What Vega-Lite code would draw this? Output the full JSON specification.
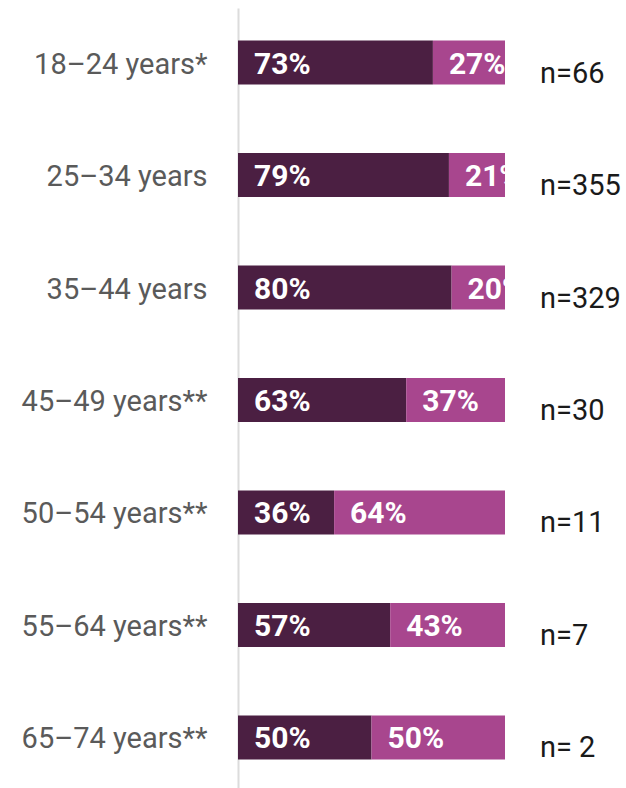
{
  "$schema": "https://vega.github.io/schema/vega-lite/v6.json",
  "width": 267,
  "height": 784,
  "autosize": {"type": "none"},
  "padding": {"left": 238, "top": 8, "right": 121, "bottom": 0},
  "background": "white",
  "config": {"view": {"stroke": null}},
  "data": {
    "values": [
      {"group": "18–24 years*", "segment": "A", "order": 1, "value": 0.73, "n": "n=66"},
      {"group": "18–24 years*", "segment": "B", "order": 2, "value": 0.27, "n": "n=66"},
      {"group": "25–34 years", "segment": "A", "order": 1, "value": 0.79, "n": "n=355"},
      {"group": "25–34 years", "segment": "B", "order": 2, "value": 0.21, "n": "n=355"},
      {"group": "35–44 years", "segment": "A", "order": 1, "value": 0.80, "n": "n=329"},
      {"group": "35–44 years", "segment": "B", "order": 2, "value": 0.20, "n": "n=329"},
      {"group": "45–49 years**", "segment": "A", "order": 1, "value": 0.63, "n": "n=30"},
      {"group": "45–49 years**", "segment": "B", "order": 2, "value": 0.37, "n": "n=30"},
      {"group": "50–54 years**", "segment": "A", "order": 1, "value": 0.36, "n": "n=11"},
      {"group": "50–54 years**", "segment": "B", "order": 2, "value": 0.64, "n": "n=11"},
      {"group": "55–64 years**", "segment": "A", "order": 1, "value": 0.57, "n": "n=7"},
      {"group": "55–64 years**", "segment": "B", "order": 2, "value": 0.43, "n": "n=7"},
      {"group": "65–74 years**", "segment": "A", "order": 1, "value": 0.50, "n": "n= 2"},
      {"group": "65–74 years**", "segment": "B", "order": 2, "value": 0.50, "n": "n= 2"}
    ]
  },
  "transform": [
    {"stack": "value", "groupby": ["group"], "sort": [{"field": "order", "order": "ascending"}], "as": ["x0", "x1"]}
  ],
  "encoding": {
    "y": {
      "field": "group",
      "type": "nominal",
      "sort": null,
      "scale": {"paddingInner": 0.61, "paddingOuter": 0.29},
      "axis": {
        "title": null,
        "ticks": false,
        "domain": true,
        "domainColor": "#dcdcdc",
        "domainWidth": 2,
        "labelPadding": 31,
        "labelLimit": 0,
        "labelOffset": 2,
        "labelFont": "Roboto",
        "labelFontSize": 29,
        "labelColor": "#5a5a5a",
        "labelFontWeight": "normal"
      }
    }
  },
  "layer": [
    {
      "mark": {"type": "bar", "clip": true},
      "encoding": {
        "x": {"field": "x0", "type": "quantitative", "scale": {"domain": [0, 1], "nice": false}, "axis": null},
        "x2": {"field": "x1"},
        "color": {
          "field": "segment",
          "type": "nominal",
          "scale": {"domain": ["A", "B"], "range": ["#4b1f42", "#a8468e"]},
          "legend": null
        }
      }
    },
    {
      "mark": {"type": "text", "clip": true, "align": "left", "baseline": "middle", "dx": 16, "dy": 2, "font": "Roboto", "fontSize": 30, "fontWeight": "bold", "color": "white"},
      "encoding": {
        "x": {"field": "x0", "type": "quantitative"},
        "text": {"field": "value", "type": "quantitative", "format": ".0%"}
      }
    },
    {
      "transform": [{"filter": "datum.segment == 'B'"}],
      "mark": {"type": "text", "clip": false, "align": "left", "baseline": "middle", "dx": 35, "dy": 11, "font": "Roboto", "fontSize": 29, "fontWeight": "normal", "color": "#1a1a1a"},
      "encoding": {
        "x": {"field": "x1", "type": "quantitative"},
        "text": {"field": "n", "type": "nominal"}
      }
    }
  ]
}
